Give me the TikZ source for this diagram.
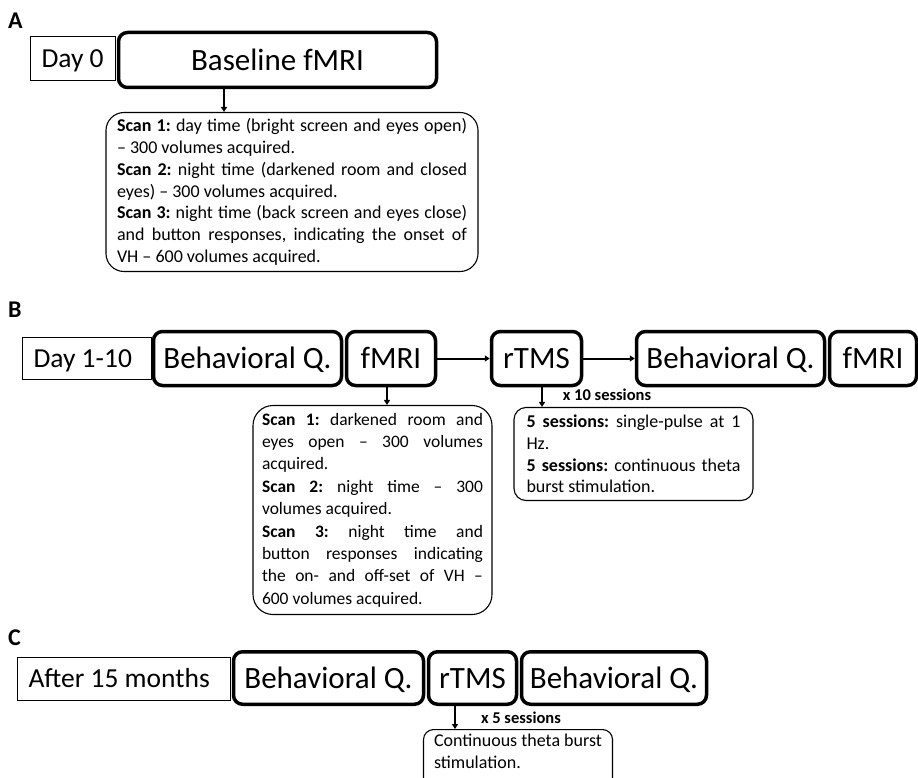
\documentclass[tikz,border=0pt]{standalone}
\usepackage{fontspec}
\setmainfont{Carlito}
\usetikzlibrary{arrows.meta}

\begin{document}
\begin{tikzpicture}[x=1pt, y=-1pt]
        \tikzstyle{every node}=[inner sep=0pt]
        \tikzstyle{panel}=[anchor=west, font=\fontsize{24}{24}\selectfont\bfseries]
        \tikzstyle{daybox}=[draw, line width=1.2pt, inner xsep=11pt, align=flush left, text height=20.5pt, text depth=2.8pt, font=\fontsize{27.5}{27.5}\selectfont]
        \tikzstyle{stage}=[draw, line width=3.5pt, rounded corners=9pt, minimum height=54pt, text height=23.2pt, text depth=3.1pt, font=\fontsize{31}{31}\selectfont]
        \tikzstyle{notebox}=[draw, line width=1.1pt, align=justify, execute at begin node=\sloppy\frenchspacing, font=\fontsize{18}{21.8}\selectfont]
        \tikzstyle{reps}=[font=\fontsize{16.5}{16.5}\selectfont\bfseries]
        \tikzstyle{arr}=[line width=2pt, -{Triangle[length=5pt, width=6pt]}]

        \useasboundingbox (0,0) rectangle (918,778);

% A: baseline scans on day 0

        \node[panel] (lblA) at (8,20.5) {A};
        \node[daybox, text width=63pt, minimum height=44pt] (day0) at (73,58.5) {\mbox{Day 0}};
        \node[stage, minimum width=318pt, minimum height=55pt] (base) at (277.5,60) {Baseline fMRI};
        \node[notebox, text width=350pt, inner xsep=11pt, minimum height=159pt, rounded corners=18pt] (scanA) at (292,192)
            {\textbf{Scan 1:} day time (bright screen and eyes open)\linebreak – 300 volumes acquired.\\
             \textbf{Scan 2:} night time (darkened room and closed\linebreak eyes) – 300 volumes acquired.\\
             \textbf{Scan 3:} night time (back screen and eyes close)\linebreak and button responses, indicating the onset of\linebreak VH – 600 volumes acquired.};
        \draw[arr, line width=2.5pt] ([xshift=-53.5pt]base.south) -- ([xshift=-53.5pt]base.south |- scanA.north);

% B: days 1-10

        \node[panel] (lblB) at (8,310) {B};
        \node[daybox, text width=107pt, minimum height=42pt] (day110) at (87,358.5) {\mbox{Day 1-10}};
        \node[stage, minimum width=188pt] (bq1) at (247.5,358.5) {Behavioral Q.};
        \node[stage, minimum width=89pt] (fmri1) at (391,358.5) {fMRI};
        \node[stage, minimum width=90pt] (rtms1) at (536.5,358.5) {rTMS};
        \node[stage, minimum width=188pt] (bq2) at (730.5,358.5) {Behavioral Q.};
        \node[stage, minimum width=87pt] (fmri2) at (873,358.5) {fMRI};
        \draw[arr] (fmri1) -- (rtms1);
        \draw[arr] (rtms1) -- (bq2);

        \node[notebox, text width=221pt, inner xsep=9pt, minimum height=209pt, rounded corners=20pt, font=\fontsize{17.5}{22.4}\selectfont] (scanB) at (372.5,510)
            {\textbf{Scan 1:} darkened room and\linebreak eyes open – 300 volumes\linebreak acquired.\\
             \textbf{Scan 2:} night time – 300\linebreak volumes acquired.\\
             \textbf{Scan 3:} night time and\linebreak button responses indicating\linebreak the on- and off-set of VH –\linebreak 600 volumes acquired.};
        \node[notebox, text width=214pt, inner xsep=12.5pt, minimum height=93pt, rounded corners=12pt] (tmsB) at (633.5,454)
            {\textbf{5 sessions:} single-pulse at 1\linebreak Hz.\\
             \textbf{5 sessions:} continuous theta\linebreak burst stimulation.};
        \node[reps] (x10) at (607,395) {x 10 sessions};
        \draw[arr, line width=2.5pt] ([xshift=-4pt]fmri1.south) -- ([xshift=-4pt]fmri1.south |- scanB.north);
        \draw[arr, line width=2.5pt] ([xshift=5.5pt]rtms1.south) -- ([xshift=5.5pt]rtms1.south |- tmsB.north);

% C: follow-up after 15 months

        \node[panel] (lblC) at (8,638) {C};
        \node[daybox, text width=191pt, minimum height=43pt] (later) at (124,679) {\mbox{After 15 months}};
        \node[stage, minimum width=190pt, minimum height=52.5pt] (bq3) at (328.5,678) {Behavioral Q.};
        \node[stage, minimum width=88pt, minimum height=52.5pt] (rtms2) at (472.5,678) {rTMS};
        \node[stage, minimum width=185pt, minimum height=52.5pt] (bq4) at (614,678) {Behavioral Q.};
        \node[notebox, anchor=north, align=left, minimum width=189pt, inner xsep=0pt, inner ysep=4pt, text depth=36pt, rounded corners=10pt, font=\fontsize{18}{22.5}\selectfont] (tbs) at (518,729)
            {Continuous theta burst\\stimulation.};
        \node[reps] (x5) at (521,718) {x 5 sessions};
        \draw[arr, line width=2.5pt] ([xshift=-17.5pt]rtms2.south) -- ([xshift=-17.5pt]rtms2.south |- tbs.north);

    \end{tikzpicture}
\end{document}
